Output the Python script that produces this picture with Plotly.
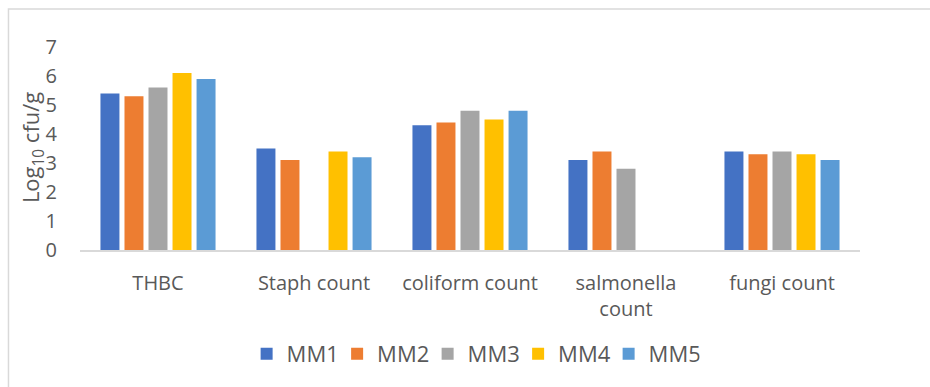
import plotly.graph_objects as go

# Microbial counts (log10 cfu/g) per sample
categories = ["THBC", "Staph count", "coliform count", "salmonella<br>count", "fungi count"]
series_names = ["MM1", "MM2", "MM3", "MM4", "MM5"]
mm1 = [5.4, 3.5, 4.3, 3.1, 3.4]
mm2 = [5.3, 3.1, 4.4, 3.4, 3.3]
mm3 = [5.6, 0.0, 4.8, 2.8, 3.4]
mm4 = [6.1, 3.4, 4.5, 0.0, 3.3]
mm5 = [5.9, 3.2, 4.8, 0.0, 3.1]
y_ticks = [0, 1, 2, 3, 4, 5, 6, 7]

colors = ["#4472C4", "#ED7D31", "#A5A5A5", "#FFC000", "#5B9BD5"]
text_color = "#595959"
font_family = "Open Sans, Liberation Sans, sans-serif"

fig = go.Figure()
for name, vals, col in zip(series_names, [mm1, mm2, mm3, mm4, mm5], colors):
    fig.add_trace(go.Bar(
        x=categories, y=vals, name=name,
        marker=dict(color=col, line=dict(width=0)),
    ))

fig.update_layout(
    width=930, height=387,
    margin=dict(l=80, r=70, t=47, b=137),
    paper_bgcolor="white", plot_bgcolor="white",
    barmode="group", bargap=0.23, bargroupgap=0.21,
    font=dict(family=font_family, color=text_color, size=18),
    showlegend=True,
    legend=dict(
        orientation="h", x=0.504, y=-0.512, xanchor="center", yanchor="middle",
        font=dict(size=22, color=text_color), traceorder="normal",
        itemclick=False, entrywidth=45.5, entrywidthmode="pixels",
    ),
    xaxis=dict(
        showline=True, linecolor="#d9d9d9", linewidth=1.5,
        showgrid=False, ticks="", tickfont=dict(size=20, color=text_color),
        ticklabelstandoff=14,
    ),
    yaxis=dict(
        range=[0, 7], tickvals=y_ticks, showgrid=False, zeroline=False,
        showline=False, ticks="", tickfont=dict(size=20, color=text_color),
        ticklabelstandoff=22,
    ),
    annotations=[dict(
        text="Log<sub>10</sub> cfu/g", xref="paper", yref="paper",
        x=-0.0615, y=0.502, xanchor="center", yanchor="middle",
        textangle=-90, showarrow=False, font=dict(size=22, color=text_color),
    )],
    shapes=[dict(
        type="rect", xref="paper", yref="paper",
        x0=-0.0917, x1=1.2, y0=-1.5, y1=1.187,
        line=dict(color="#d9d9d9", width=1.5), fillcolor="rgba(0,0,0,0)",
        layer="below",
    )],
)

fig.write_html("out.html")
